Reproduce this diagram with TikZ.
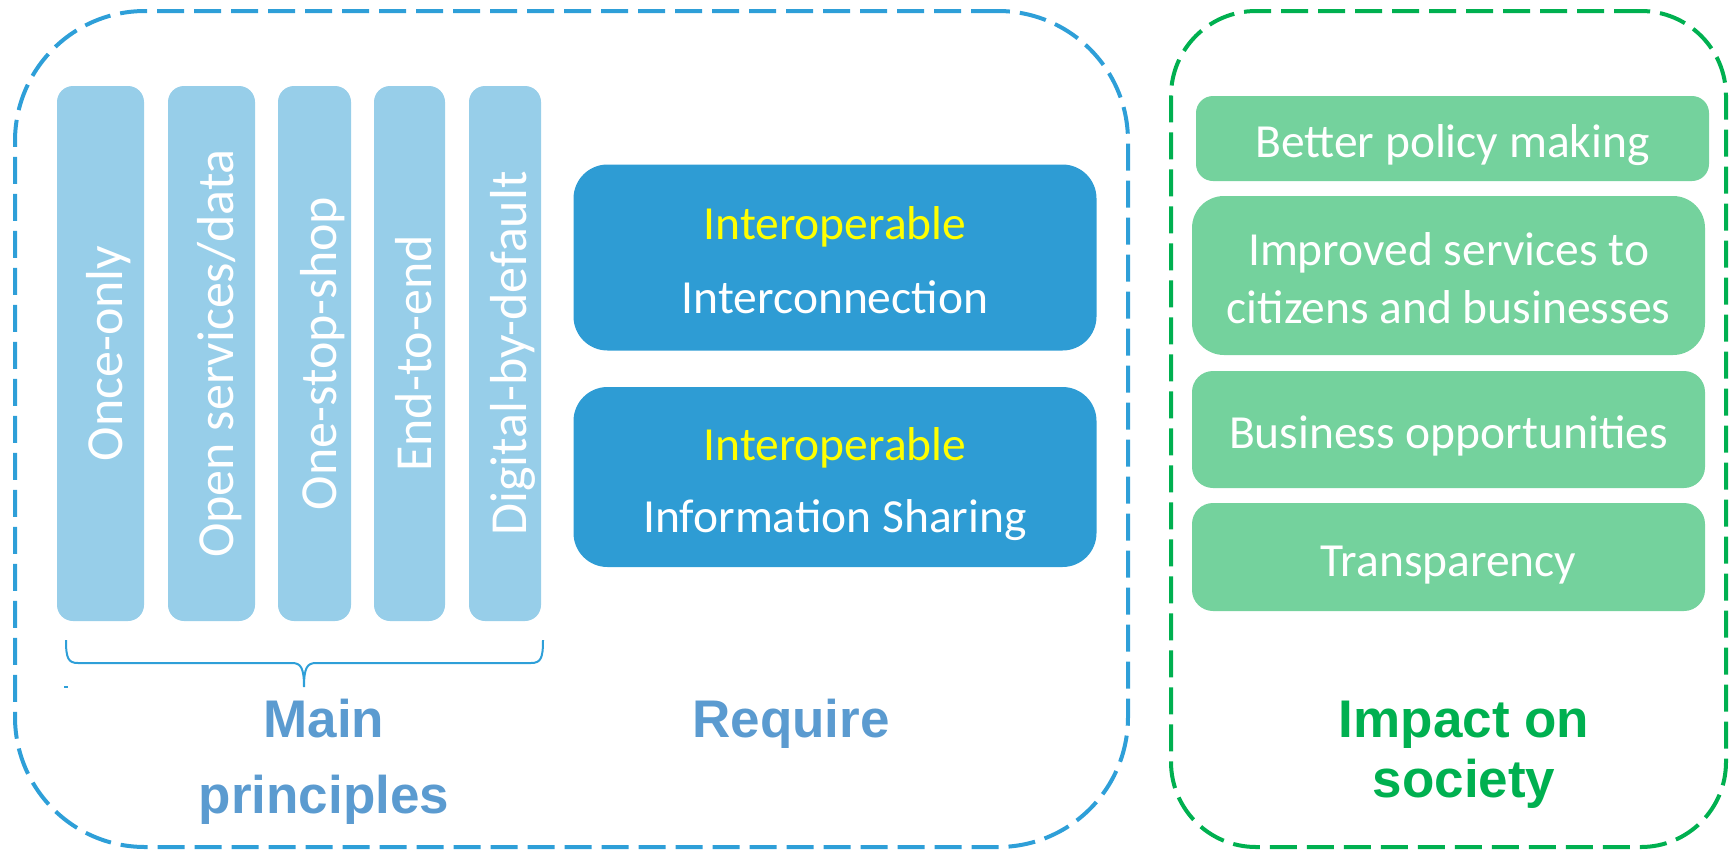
\documentclass[tikz,border=0pt]{standalone}
\usepackage{fontspec}
\newfontfamily\carl{Carlito}
\newfontfamily\arb{Liberation Sans}
\definecolor{dashblue}{HTML}{2E9FD8}
\definecolor{dashgreen}{HTML}{00B050}
\definecolor{colblue}{HTML}{97CEE9}
\definecolor{boxblue}{HTML}{2E9CD4}
\definecolor{boxgreen}{HTML}{74D29D}
\definecolor{lblblue}{HTML}{5B9BD0}
\definecolor{lblgreen}{HTML}{00B050}
\definecolor{txtyellow}{HTML}{FFFF00}
\tikzset{
  frame/.style={line width=4pt, dash pattern=on 27pt off 10pt, inner sep=0pt, fill=none},
  colbox/.style={fill=colblue, draw=none, rounded corners=16pt, minimum height=535pt, inner sep=0pt},
  coltext/.style={anchor=base, rotate=90, text=white, inner sep=0pt, font=\carl\fontsize{52}{60}\selectfont},
  reqbox/.style={fill=boxblue, draw=none, rounded corners=34pt, minimum width=523pt, inner sep=0pt},
  gbox/.style={fill=boxgreen, draw=none, inner sep=0pt, minimum width=513pt},
  btext/.style={anchor=base, inner sep=0pt, font=\carl\fontsize{47.5}{58}\selectfont},
  lbl/.style={anchor=base, inner sep=0pt, font=\arb\bfseries\fontsize{53}{60}\selectfont},
  brace/.style={draw=dashblue, line width=2pt}
}
\begin{document}
\begin{tikzpicture}[x=1pt,y=-1pt]
\useasboundingbox (0,0) rectangle (1729,849);
% frames
\node[frame, draw=dashblue, rounded corners=130pt, minimum width=1113pt, minimum height=836pt] (fb) at (571.5,429) {};
\node[frame, draw=dashgreen, rounded corners=85pt, minimum width=555pt, minimum height=836pt] (fg) at (1448.5,429) {};
% principle columns
\node[colbox, minimum width=87pt] (c1) at (100.5,353.5) {};
\node[colbox, minimum width=87pt] (c2) at (211.5,353.5) {};
\node[colbox, minimum width=73pt] (c3) at (314.5,353.5) {};
\node[colbox, minimum width=71pt] (c4) at (409.5,353.5) {};
\node[colbox, minimum width=72pt] (c5) at (505,353.5) {};
\node[coltext] (t1) at (122,353.5) {Once-only};
\node[coltext] (t2) at (233,353.5) {Open services/data};
\node[coltext] (t3) at (336,353.5) {One-stop-shop};
\node[coltext] (t4) at (431,353.5) {End-to-end};
\node[coltext] (t5) at (526.5,353.5) {Digital-by-default};
% brace
\draw[brace] (66,640) .. controls (66,658) and (68,663) .. (78,663) -- (292,663)
  .. controls (301,663) and (304,668) .. (304,687)
  .. controls (304,668) and (307,663) .. (316,663) -- (531,663)
  .. controls (541,663) and (543,658) .. (543,640);
\draw[draw=dashblue, line width=1.5pt] (64,687) -- (68,687);
% require boxes
\node[reqbox, minimum height=186pt] (r1) at (835,257.5) {};
\node[reqbox, minimum height=180pt] (r2) at (835,477) {};
\node[btext, text=txtyellow] (r1a) at (835,239) {Interoperable};
\node[btext, text=white] (r1b) at (835,313) {Interconnection};
\node[btext, text=txtyellow] (r2a) at (835,460) {Interoperable};
\node[btext, text=white] (r2b) at (835,532) {Information Sharing};
% impact boxes
\node[gbox, rounded corners=17pt, minimum height=85pt] (g1) at (1452.5,138.5) {};
\node[gbox, rounded corners=32pt, minimum height=159pt] (g2) at (1448.5,275.5) {};
\node[gbox, rounded corners=21pt, minimum height=117pt] (g3) at (1448.5,429.5) {};
\node[gbox, rounded corners=21pt, minimum height=108pt] (g4) at (1448.5,557) {};
\node[btext, text=white] (g1t) at (1452.5,157) {Better policy making};
\node[btext, text=white] (g2a) at (1448.5,265) {Improved services to};
\node[btext, text=white] (g2b) at (1448.5,323) {citizens and businesses};
\node[btext, text=white] (g3t) at (1448.5,448) {Business opportunities};
\node[btext, text=white] (g4t) at (1448.5,576) {Transparency};
% labels
\node[lbl, text=lblblue] (lm1) at (324,737) {Main};
\node[lbl, text=lblblue] (lm2) at (324,813) {principles};
\node[lbl, text=lblblue] (lr) at (791,737) {Require};
\node[lbl, text=lblgreen] (li1) at (1464,737) {Impact on};
\node[lbl, text=lblgreen] (li2) at (1464,797) {society};
\end{tikzpicture}
\end{document}
